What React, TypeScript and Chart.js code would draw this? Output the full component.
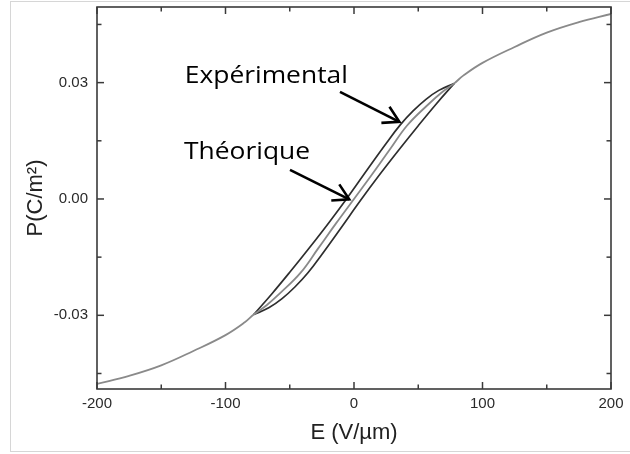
import React, { useEffect, useRef } from "react";
import { Chart, registerables } from "chart.js";

Chart.register(...registerables);

// Theoretical curve (gray)
const theoE = [-200, -175, -150, -125, -100, -85, -78, -68, -57.5, -41.5, -28, -14, 0, 14, 28, 41.5, 57.5, 68, 78, 85, 100, 125, 150, 175, 200];
const theoP = [-0.0477, -0.0456, -0.0429, -0.0392, -0.0351, -0.0318, -0.0298, -0.0274, -0.0243, -0.0190, -0.0128, -0.0063, 0, 0.0063, 0.0128, 0.0190, 0.0243, 0.0274, 0.0298, 0.0318, 0.0351, 0.0392, 0.0429, 0.0456, 0.0477];

// Experimental loop: upper (left) branch
const expUpperE = [-78, -64, -50, -35, -20, -5, 10, 25, 36, 46, 56, 66, 78];
const expUpperP = [-0.0298, -0.0245, -0.0189, -0.0127, -0.0063, 0.0004, 0.0074, 0.0143, 0.0191, 0.0227, 0.0257, 0.0280, 0.0298];

// Experimental loop: lower (right) branch
const expLowerE = [-78, -66, -56, -46, -36, -25, -10, 5, 20, 35, 50, 64, 78];
const expLowerP = [-0.0298, -0.0280, -0.0257, -0.0227, -0.0191, -0.0143, -0.0074, -0.0004, 0.0063, 0.0127, 0.0189, 0.0245, 0.0298];

// Axes
const xMajorTicks = [-200, -100, 0, 100, 200];
const xTickLabels = ["-200", "-100", "0", "100", "200"];
const xMinorTicks = [-150, -50, 50, 150];
const yMajorTicks = [-0.03, 0, 0.03];
const yTickLabels = ["-0.03", "0.00", "0.03"];
const yMinorTicks = [-0.045, -0.015, 0.015, 0.045];
const xRange = [-200, 200];
const yRange = [-0.049, 0.0495];
const xTitle = "E (V/µm)";
const yTitle = "P(C/m²)";

// Annotations (anchored in data coordinates)
const annotationTexts = ["Expérimental", "Théorique"];
const annotationTextE = [-131.7, -132.3];
const annotationTextP = [0.0298, 0.0103];
const arrowTailE = [-10.9, -49.8];
const arrowTailP = [0.0276, 0.0075];
const arrowTipE = [35.3, -3.7];
const arrowTipP = [0.0199, -0.0001];

const toPoints = (xs: number[], ys: number[]) => xs.map((x, i) => ({ x, y: ys[i] }));

const decorPlugin = {
  id: "decor",
  afterDatasetsDraw(chart: any) {
    const { ctx, chartArea, scales } = chart;
    const xs = scales.x;
    const ys = scales.y;
    const { left, right, top, bottom } = chartArea;
    ctx.save();
    // outer light frame
    ctx.strokeStyle = "#d6d6d6";
    ctx.lineWidth = 1;
    ctx.strokeRect(10.5, 1.5, 700, 450);

    // plot frame
    ctx.strokeStyle = "#3a3a3a";
    ctx.lineWidth = 1.6;
    ctx.strokeRect(left, top, right - left, bottom - top);

    // inward ticks
    const tick = (x1: number, y1: number, x2: number, y2: number) => {
      ctx.beginPath();
      ctx.moveTo(x1, y1);
      ctx.lineTo(x2, y2);
      ctx.stroke();
    };
    ctx.lineWidth = 1.5;
    const xTickSets: [number[], number][] = [[xMajorTicks, 7], [xMinorTicks, 4.5]];
    xTickSets.forEach(([vals, len]) => {
      vals.forEach((v) => {
        const px = xs.getPixelForValue(v);
        tick(px, bottom, px, bottom - len);
        tick(px, top, px, top + len);
      });
    });
    const yTickSets: [number[], number][] = [[yMajorTicks, 7], [yMinorTicks, 4.5]];
    yTickSets.forEach(([vals, len]) => {
      vals.forEach((v) => {
        const py = ys.getPixelForValue(v);
        tick(left, py, left + len, py);
        tick(right, py, right - len, py);
      });
    });

    // annotations
    ctx.fillStyle = "#000";
    ctx.strokeStyle = "#000";
    ctx.font = '24px "Open Sans", "Noto Sans", sans-serif';
    ctx.textBaseline = "alphabetic";
    ctx.textAlign = "left";
    annotationTexts.forEach((t, i) => {
      ctx.save();
      ctx.translate(xs.getPixelForValue(annotationTextE[i]), ys.getPixelForValue(annotationTextP[i]));
      ctx.scale(1.1, 1);
      ctx.fillText(t, 0, 0);
      ctx.restore();
      const tx = xs.getPixelForValue(arrowTailE[i]);
      const ty = ys.getPixelForValue(arrowTailP[i]);
      const hx = xs.getPixelForValue(arrowTipE[i]);
      const hy = ys.getPixelForValue(arrowTipP[i]);
      const ang = Math.atan2(hy - ty, hx - tx);
      ctx.lineWidth = 2.6;
      ctx.lineCap = "butt";
      ctx.lineJoin = "miter";
      ctx.beginPath();
      ctx.moveTo(tx, ty);
      ctx.lineTo(hx, hy);
      ctx.stroke();
      const bl = 18;
      const spread = (30 * Math.PI) / 180;
      ctx.beginPath();
      ctx.moveTo(hx + bl * Math.cos(ang + Math.PI - spread), hy + bl * Math.sin(ang + Math.PI - spread));
      ctx.lineTo(hx, hy);
      ctx.lineTo(hx + bl * Math.cos(ang + Math.PI + spread), hy + bl * Math.sin(ang + Math.PI + spread));
      ctx.stroke();
    });
    ctx.restore();
  },
};

export default function App() {
  const canvasRef = useRef<HTMLCanvasElement | null>(null);

  useEffect(() => {
    const canvas = canvasRef.current;
    if (!canvas) return;
    const tickFont = { family: '"Liberation Sans", Arial, sans-serif', size: 15 };
    const titleFont = { family: '"Liberation Sans", Arial, sans-serif', size: 22 };
    const lineStyle = { showLine: true, pointRadius: 0, tension: 0.4 };
    const chart = new Chart(canvas, {
      type: "scatter",
      data: {
        datasets: [
          {
            label: "Théorique",
            data: toPoints(theoE, theoP),
            borderColor: "#8a8a8a",
            borderWidth: 1.8,
            ...lineStyle,
          },
          {
            label: "Expérimental (branche haute)",
            data: toPoints(expUpperE, expUpperP),
            borderColor: "#2e2e2e",
            borderWidth: 1.7,
            ...lineStyle,
          },
          {
            label: "Expérimental (branche basse)",
            data: toPoints(expLowerE, expLowerP),
            borderColor: "#2e2e2e",
            borderWidth: 1.7,
            ...lineStyle,
          },
        ],
      },
      options: {
        animation: false,
        responsive: false,
        devicePixelRatio: 1,
        layout: { padding: { left: 0, right: 19, top: 7, bottom: 0 } },
        plugins: {
          legend: { display: false },
          tooltip: { enabled: false },
          title: { display: false },
        },
        events: [],
        scales: {
          x: {
            type: "linear",
            position: "bottom",
            min: xRange[0],
            max: xRange[1],
            afterBuildTicks: (s: any) => {
              s.ticks = xMajorTicks.map((v) => ({ value: v }));
            },
            afterFit: (s: any) => {
              s.height = 65;
              s.paddingLeft = 0;
              s.paddingRight = 0;
            },
            ticks: {
              autoSkip: false,
              maxRotation: 0,
              padding: 6,
              color: "#2a2a2a",
              font: tickFont,
              callback: (_v: any, i: number) => xTickLabels[i],
            },
            grid: { display: false, drawTicks: false },
            border: { display: false },
            title: { display: true, text: xTitle, color: "#222", font: titleFont, padding: 8 },
          },
          y: {
            type: "linear",
            position: "left",
            min: yRange[0],
            max: yRange[1],
            afterBuildTicks: (s: any) => {
              s.ticks = yMajorTicks.map((v) => ({ value: v }));
            },
            afterFit: (s: any) => {
              s.width = 97;
              s.paddingTop = 0;
              s.paddingBottom = 0;
            },
            ticks: {
              autoSkip: false,
              padding: 9,
              color: "#2a2a2a",
              font: tickFont,
              callback: (_v: any, i: number) => yTickLabels[i],
            },
            grid: { display: false, drawTicks: false },
            border: { display: false },
            title: { display: true, text: yTitle, color: "#222", font: titleFont, padding: 23 },
          },
        },
      },
      plugins: [decorPlugin],
    } as any);
    return () => chart.destroy();
  }, []);

  return (
    <div style={{ position: "absolute", left: 0, top: 0, width: 630, height: 454, background: "#fff" }}>
      <canvas ref={canvasRef} width={630} height={454} style={{ display: "block" }} />
    </div>
  );
}
